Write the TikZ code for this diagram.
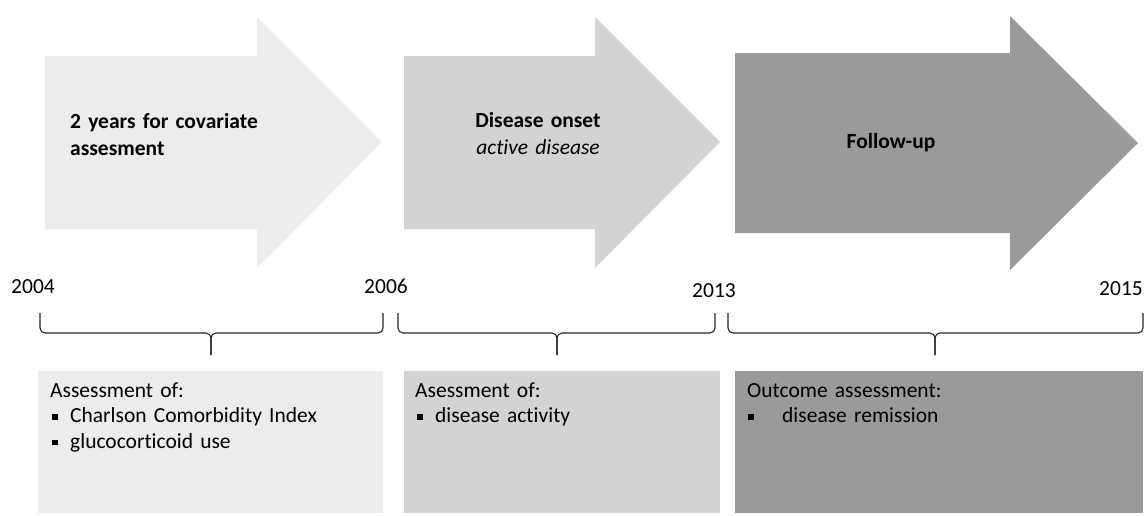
\documentclass[tikz,border=0pt]{standalone}
\usepackage{fontspec}
\setmainfont{Carlito}[Ligatures=NoCommon]
\usepackage{tikz}
\usetikzlibrary{positioning}

\definecolor{phaseA}{HTML}{ECECEC}
\definecolor{phaseB}{HTML}{D3D3D3}
\definecolor{phaseC}{HTML}{9A9A9A}
\newcommand{\sqbullet}{\makebox[20pt][l]{\hspace{2pt}\raisebox{0.28ex}{\rule{5.5pt}{5.5pt}}}}

\begin{document}
\begin{tikzpicture}[
	x=1pt, y=-1pt,
	head/.style={
		font = \fontsize{21.5}{27}\selectfont\bfseries,
		inner sep=0pt,
		text width=260pt
	},
	year/.style={
		font = \fontsize{21.5}{25}\selectfont,
		inner sep=0pt,
		anchor=base
	},
	info/.style={
		font = \fontsize{21.5}{25.5}\selectfont,
		inner sep=0pt,
		text width=320pt,
		align=left,
		anchor=base west
	},
	bracket/.style={
		draw=black!85,
		line width=1.1pt,
		rounded corners=5pt
	}
	]
	
	\useasboundingbox (0,0) rectangle (1146,515);
	
	% phase arrows
	\fill[phaseA] (45,56) -- (257,56) -- (257,17) -- (382,142) -- (257,268) -- (257,229) -- (45,229) -- cycle;
	\fill[phaseB] (404,56) -- (595,56) -- (595,17) -- (720,142) -- (595,268) -- (595,229) -- (404,229) -- cycle;
	\fill[phaseC] (735,53) -- (1010,53) -- (1010,16) -- (1138,143) -- (1010,270) -- (1010,233) -- (735,233) -- cycle;
	
	\node[head, align=left, anchor=base west] at (70,128)
	(covar) {2 years for covariate\\assesment};
	\node[head, align=center, anchor=base] at (538,127)
	(onset) {Disease onset\\\mdseries\itshape active disease};
	\node[head, align=center, anchor=base] at (891,148)
	(follow) {Follow-up};
	
	% years
	\node[year] at (33,293) (y2004) {2004};
	\node[year] at (386,293) (y2006) {2006};
	\node[year] at (714,297) (y2013) {2013};
	\node[year] at (1121,295) (y2015) {2015};
	
	% brackets
	\foreach \l/\m/\r [count=\i] in {40/211/383, 398/557/715, 728/935/1143} {
		\coordinate (b\i l) at (\l,313);
		\coordinate (b\i r) at (\r,313);
		\coordinate (b\i m) at (\m,333);
		\coordinate (b\i t) at (\m,355);
		\draw[bracket] (b\i l) |- (b\i m) -- (b\i t);
		\draw[bracket] (b\i r) |- (b\i m) -- (b\i t);
	}
	
	% assessment boxes
	\fill[phaseA] (38,371) rectangle (383,513);
	\fill[phaseB] (404,371) rectangle (720,513);
	\fill[phaseC] (735,371) rectangle (1143,513);
	
	\node[info] at (50,397)
	(covarinfo) {Assessment of:\\
		\sqbullet Charlson Comorbidity Index\\
		\sqbullet glucocorticoid use};
	\node[info] at (415,397)
	(onsetinfo) {Asessment of:\\
		\sqbullet disease activity};
	\node[info] at (747,397)
	(followinfo) {Outcome assessment:\\
		\makebox[35pt][l]{\hspace{1pt}\raisebox{0.28ex}{\rule{5.5pt}{5.5pt}}}disease remission};
	
\end{tikzpicture}
\end{document}
